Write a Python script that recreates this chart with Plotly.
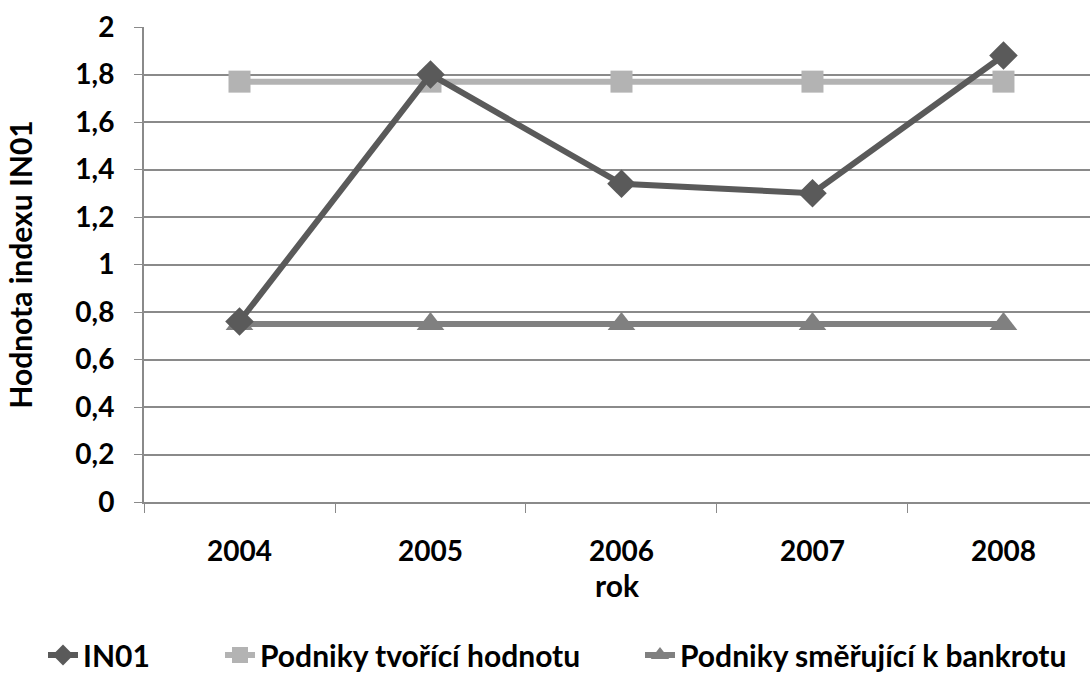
import plotly.graph_objects as go

years = ["2004", "2005", "2006", "2007", "2008"]
in01 = [0.76, 1.80, 1.34, 1.30, 1.88]
tvorici_hodnotu = [1.77, 1.77, 1.77, 1.77, 1.77]
smerujici_k_bankrotu = [0.75, 0.75, 0.75, 0.75, 0.75]
y_ticks = [0, 0.2, 0.4, 0.6, 0.8, 1, 1.2, 1.4, 1.6, 1.8, 2]
y_tick_text = ["0", "0,2", "0,4", "0,6", "0,8", "1", "1,2", "1,4", "1,6", "1,8", "2"]

FONT = "Lato"
GRID = "#8a8a8a"
TICK_SIZE = 28
TEXT_SIZE = 30

fig = go.Figure()
fig.add_trace(go.Scatter(
    x=years, y=tvorici_hodnotu, name="Podniky tvořící hodnotu",
    mode="lines+markers",
    line=dict(color="#b3b3b3", width=6),
    marker=dict(symbol="square", size=22, color="#b3b3b3"),
    legend="legend2",
))
fig.add_trace(go.Scatter(
    x=years, y=smerujici_k_bankrotu, name="Podniky směřující k bankrotu",
    mode="lines+markers",
    line=dict(color="#808080", width=6),
    marker=dict(symbol="triangle-up", size=24, color="#808080"),
    legend="legend3",
))
fig.add_trace(go.Scatter(
    x=years, y=in01, name="IN01",
    mode="lines+markers",
    line=dict(color="#5a5a5a", width=6),
    marker=dict(symbol="diamond", size=22, color="#5a5a5a"),
    legend="legend",
))


def legend_box(x_px):
    return dict(
        orientation="h", xref="container", yref="container",
        x=x_px / 1090, xanchor="left", y=(675 - 655) / 675, yanchor="middle",
        font=dict(family=FONT, size=TEXT_SIZE, color="black", weight="bold"),
        bgcolor="rgba(0,0,0,0)",
    )


fig.update_layout(
    width=1090, height=675,
    margin=dict(l=144, r=0, t=27, b=173),
    paper_bgcolor="white", plot_bgcolor="white",
    font=dict(family=FONT, size=TEXT_SIZE, color="black"),
    showlegend=True,
    legend=legend_box(43),
    legend2=legend_box(220),
    legend3=legend_box(640),
    xaxis=dict(
        type="category", range=[-0.5, 4.453],
        tickson="boundaries", ticks="outside", ticklen=9, tickcolor=GRID,
        ticklabelstandoff=23,
        showgrid=False, showline=True, linecolor=GRID, linewidth=2,
        tickfont=dict(family=FONT, size=TICK_SIZE, weight="bold"),
        title=dict(text="rok", font=dict(family=FONT, size=TEXT_SIZE, weight="bold"), standoff=10),
    ),
    yaxis=dict(
        range=[0, 2], tickvals=y_ticks, ticktext=y_tick_text,
        ticks="outside", ticklen=8, tickcolor=GRID,
        ticklabelstandoff=14,
        showgrid=True, gridcolor=GRID, gridwidth=2,
        showline=True, linecolor=GRID, linewidth=2,
        zeroline=False,
        tickfont=dict(family=FONT, size=TICK_SIZE, weight="bold"),
        title=dict(text="Hodnota indexu IN01", font=dict(family=FONT, size=TEXT_SIZE, weight="bold"), standoff=34),
    ),
)

fig.write_html("out.html")
